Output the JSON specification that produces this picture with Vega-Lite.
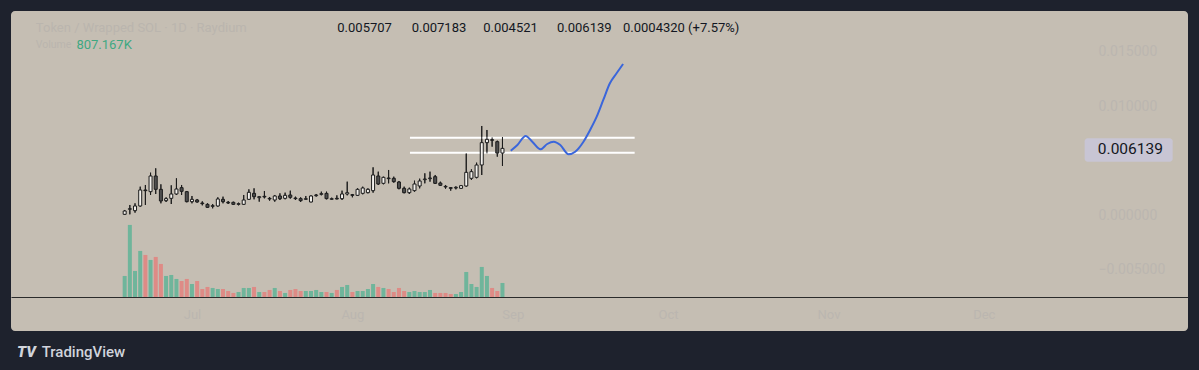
{
  "$schema": "https://vega.github.io/schema/vega-lite/v6.json",
  "width": 1177,
  "height": 320,
  "autosize": {"type": "none"},
  "padding": {"left": 11, "top": 11, "right": 11, "bottom": 39},
  "background": "#1e222d",
  "config": {
    "font": "Roboto",
    "view": {"fill": "#c5beb3", "stroke": null, "cornerRadius": 4}
  },
  "data": {"values": [
    {"date":"2024-06-18","o":0.000082,"h":0.000480,"l":0.000020,"c":0.000388,"v":1211000},
    {"date":"2024-06-19","o":0.000541,"h":0.000939,"l":0.000082,"c":0.000602,"v":4151000},
    {"date":"2024-06-20","o":0.000418,"h":0.001092,"l":0.000235,"c":0.000847,"v":1499000},
    {"date":"2024-06-21","o":0.000847,"h":0.002622,"l":0.000786,"c":0.002316,"v":2652000},
    {"date":"2024-06-22","o":0.002316,"h":0.002775,"l":0.000939,"c":0.002255,"v":2421000},
    {"date":"2024-06-23","o":0.002163,"h":0.003908,"l":0.001857,"c":0.003602,"v":2133000},
    {"date":"2024-06-24","o":0.003602,"h":0.004306,"l":0.001949,"c":0.002377,"v":2306000},
    {"date":"2024-06-25","o":0.002377,"h":0.002837,"l":0.001092,"c":0.001306,"v":1902000},
    {"date":"2024-06-26","o":0.001337,"h":0.001643,"l":0.001214,"c":0.001520,"v":1211000},
    {"date":"2024-06-27","o":0.001551,"h":0.002745,"l":0.001031,"c":0.001949,"v":1268000},
    {"date":"2024-06-28","o":0.001949,"h":0.003388,"l":0.001857,"c":0.002408,"v":1038000},
    {"date":"2024-06-29","o":0.002530,"h":0.002775,"l":0.001857,"c":0.002194,"v":922000},
    {"date":"2024-06-30","o":0.002163,"h":0.002224,"l":0.001184,"c":0.001245,"v":1038000},
    {"date":"2024-07-01","o":0.001245,"h":0.001765,"l":0.001092,"c":0.001459,"v":749000},
    {"date":"2024-07-02","o":0.001398,"h":0.001490,"l":0.001153,"c":0.001214,"v":922000},
    {"date":"2024-07-03","o":0.001123,"h":0.001275,"l":0.000908,"c":0.001061,"v":461000},
    {"date":"2024-07-04","o":0.001000,"h":0.001092,"l":0.000663,"c":0.000724,"v":577000},
    {"date":"2024-07-05","o":0.000816,"h":0.001031,"l":0.000633,"c":0.000877,"v":519000},
    {"date":"2024-07-06","o":0.000847,"h":0.001643,"l":0.000786,"c":0.001490,"v":461000},
    {"date":"2024-07-07","o":0.001459,"h":0.001704,"l":0.001092,"c":0.001245,"v":461000},
    {"date":"2024-07-08","o":0.001184,"h":0.001306,"l":0.001031,"c":0.001123,"v":346000},
    {"date":"2024-07-09","o":0.001184,"h":0.001245,"l":0.000939,"c":0.001000,"v":231000},
    {"date":"2024-07-10","o":0.001000,"h":0.001153,"l":0.000908,"c":0.001061,"v":288000},
    {"date":"2024-07-11","o":0.001000,"h":0.001857,"l":0.000939,"c":0.001398,"v":519000},
    {"date":"2024-07-12","o":0.001459,"h":0.002377,"l":0.001398,"c":0.002102,"v":519000},
    {"date":"2024-07-13","o":0.002010,"h":0.002469,"l":0.001459,"c":0.001704,"v":577000},
    {"date":"2024-07-14","o":0.001612,"h":0.001765,"l":0.001245,"c":0.001704,"v":288000},
    {"date":"2024-07-15","o":0.001735,"h":0.002224,"l":0.001551,"c":0.001673,"v":288000},
    {"date":"2024-07-16","o":0.001551,"h":0.001673,"l":0.001337,"c":0.001490,"v":404000},
    {"date":"2024-07-17","o":0.001398,"h":0.001857,"l":0.001245,"c":0.001765,"v":519000},
    {"date":"2024-07-18","o":0.001765,"h":0.002010,"l":0.001398,"c":0.001520,"v":346000},
    {"date":"2024-07-19","o":0.001551,"h":0.002071,"l":0.001459,"c":0.001826,"v":231000},
    {"date":"2024-07-20","o":0.001857,"h":0.002255,"l":0.001520,"c":0.001643,"v":404000},
    {"date":"2024-07-21","o":0.001582,"h":0.001704,"l":0.001398,"c":0.001520,"v":461000},
    {"date":"2024-07-22","o":0.001520,"h":0.001643,"l":0.001214,"c":0.001337,"v":346000},
    {"date":"2024-07-23","o":0.001459,"h":0.001765,"l":0.001398,"c":0.001520,"v":346000},
    {"date":"2024-07-24","o":0.001214,"h":0.001826,"l":0.001184,"c":0.001765,"v":346000},
    {"date":"2024-07-25","o":0.001796,"h":0.001949,"l":0.001704,"c":0.001857,"v":404000},
    {"date":"2024-07-26","o":0.001918,"h":0.002163,"l":0.001826,"c":0.001979,"v":288000},
    {"date":"2024-07-27","o":0.002010,"h":0.002163,"l":0.001459,"c":0.001520,"v":288000},
    {"date":"2024-07-28","o":0.001459,"h":0.001612,"l":0.001398,"c":0.001520,"v":231000},
    {"date":"2024-07-29","o":0.001551,"h":0.001826,"l":0.001459,"c":0.001490,"v":404000},
    {"date":"2024-07-30","o":0.001520,"h":0.002255,"l":0.001398,"c":0.001949,"v":577000},
    {"date":"2024-07-31","o":0.001949,"h":0.003081,"l":0.001826,"c":0.002071,"v":692000},
    {"date":"2024-08-01","o":0.001888,"h":0.001949,"l":0.001643,"c":0.001826,"v":288000},
    {"date":"2024-08-02","o":0.001826,"h":0.002469,"l":0.001765,"c":0.002377,"v":346000},
    {"date":"2024-08-03","o":0.002010,"h":0.002622,"l":0.001918,"c":0.002500,"v":346000},
    {"date":"2024-08-04","o":0.002071,"h":0.002469,"l":0.002010,"c":0.002377,"v":461000},
    {"date":"2024-08-05","o":0.002255,"h":0.004397,"l":0.002071,"c":0.003694,"v":749000},
    {"date":"2024-08-06","o":0.003602,"h":0.004000,"l":0.002775,"c":0.002867,"v":577000},
    {"date":"2024-08-07","o":0.002928,"h":0.003541,"l":0.002837,"c":0.003479,"v":519000},
    {"date":"2024-08-08","o":0.003418,"h":0.004153,"l":0.002928,"c":0.003357,"v":461000},
    {"date":"2024-08-09","o":0.003388,"h":0.003541,"l":0.002990,"c":0.003081,"v":288000},
    {"date":"2024-08-10","o":0.003051,"h":0.003143,"l":0.002377,"c":0.002469,"v":519000},
    {"date":"2024-08-11","o":0.002469,"h":0.002622,"l":0.002010,"c":0.002071,"v":346000},
    {"date":"2024-08-12","o":0.002071,"h":0.002530,"l":0.001949,"c":0.002408,"v":288000},
    {"date":"2024-08-13","o":0.002255,"h":0.003173,"l":0.002163,"c":0.002867,"v":346000},
    {"date":"2024-08-14","o":0.002683,"h":0.003357,"l":0.002469,"c":0.003143,"v":288000},
    {"date":"2024-08-15","o":0.003265,"h":0.003847,"l":0.002928,"c":0.003326,"v":288000},
    {"date":"2024-08-16","o":0.003357,"h":0.004000,"l":0.003081,"c":0.003418,"v":404000},
    {"date":"2024-08-17","o":0.003541,"h":0.003694,"l":0.002867,"c":0.002928,"v":231000},
    {"date":"2024-08-18","o":0.002959,"h":0.003081,"l":0.002683,"c":0.002745,"v":231000},
    {"date":"2024-08-19","o":0.002653,"h":0.002775,"l":0.002439,"c":0.002592,"v":231000},
    {"date":"2024-08-20","o":0.002530,"h":0.002561,"l":0.002255,"c":0.002469,"v":173000},
    {"date":"2024-08-21","o":0.002500,"h":0.002653,"l":0.002377,"c":0.002561,"v":173000},
    {"date":"2024-08-22","o":0.002469,"h":0.002775,"l":0.002408,"c":0.002714,"v":288000},
    {"date":"2024-08-23","o":0.002683,"h":0.005683,"l":0.002622,"c":0.003938,"v":1441000},
    {"date":"2024-08-24","o":0.003388,"h":0.004214,"l":0.003235,"c":0.004000,"v":749000},
    {"date":"2024-08-25","o":0.003479,"h":0.004826,"l":0.003388,"c":0.004612,"v":577000},
    {"date":"2024-08-26","o":0.004612,"h":0.008193,"l":0.003694,"c":0.006663,"v":1730000},
    {"date":"2024-08-27","o":0.006663,"h":0.007826,"l":0.005683,"c":0.006969,"v":1211000},
    {"date":"2024-08-28","o":0.006938,"h":0.007152,"l":0.006295,"c":0.006877,"v":519000},
    {"date":"2024-08-29","o":0.006754,"h":0.006846,"l":0.005377,"c":0.005707,"v":346000},
    {"date":"2024-08-30","o":0.005707,"h":0.007183,"l":0.004521,"c":0.006139,"v":807167}
  ]},
  "resolve": {"scale": {"y": "independent"}},
  "layer": [
    {
      "mark": {"type": "bar", "size": 4},
      "encoding": {
        "x": {"field": "date", "type": "temporal", "title": null,
          "scale": {"type": "utc", "nice": false, "domain": [{"year": 2024, "month": 5, "date": 28, "utc": true}, {"year": 2025, "month": 1, "date": 8, "hours": 12, "utc": true}]},
          "axis": {"orient": "bottom", "offset": -34, "grid": false, "ticks": false, "domain": true, "domainColor": "#2b2b2b", "domainWidth": 1, "zindex": 1,
            "values": [{"year": 2024, "month": 7, "date": 1, "utc": true}, {"year": 2024, "month": 8, "date": 1, "utc": true}, {"year": 2024, "month": 9, "date": 1, "utc": true}, {"year": 2024, "month": 10, "date": 1, "utc": true}, {"year": 2024, "month": 11, "date": 1, "utc": true}, {"year": 2024, "month": 12, "date": 1, "utc": true}],
            "labelExpr": "utcFormat(datum.value, '%b')", "labelColor": "#bbb6b0", "labelFontSize": 13, "labelPadding": 11, "labelFlush": false, "labelOverlap": false}},
        "y": {"field": "v", "type": "quantitative", "title": null, "axis": null,
          "scale": {"domain": [-1960000, 16474000], "nice": false, "zero": false}},
        "color": {"condition": {"test": "datum.c >= datum.o", "value": "#6fb59b"}, "value": "#de8b86"}
      }
    },
    {
      "layer": [
        {
          "mark": {"type": "rule", "color": "#1c1c1c", "strokeWidth": 1},
          "encoding": {
            "x": {"field": "date", "type": "temporal", "title": null,
              "scale": {"type": "utc", "nice": false, "domain": [{"year": 2024, "month": 5, "date": 28, "utc": true}, {"year": 2025, "month": 1, "date": 8, "hours": 12, "utc": true}]}},
            "y": {"field": "l", "type": "quantitative", "title": null,
              "scale": {"domain": [-0.010632, 0.018753], "nice": false, "zero": false},
              "axis": {"orient": "right", "offset": -98, "domain": false, "ticks": false, "grid": false, "zindex": 0, "values": [-0.005, 0, 0.01, 0.015], "format": ".6f", "labelColor": "#bbb6b0", "labelFontSize": 14, "labelPadding": 8, "labelFlush": false, "labelOverlap": false}},
            "y2": {"field": "h"}
          }
        },
        {
          "data": {"values": [{}]},
          "mark": {"type": "rule", "color": "#ffffff", "strokeWidth": 2},
          "encoding": {
            "x": {"datum": {"year": 2024, "month": 8, "date": 12, "hours": 3, "utc": true}, "type": "temporal", "title": null,
              "scale": {"type": "utc", "nice": false, "domain": [{"year": 2024, "month": 5, "date": 28, "utc": true}, {"year": 2025, "month": 1, "date": 8, "hours": 12, "utc": true}]}},
            "x2": {"datum": {"year": 2024, "month": 9, "date": 24, "hours": 13, "utc": true}},
            "y": {"datum": 0.007119, "type": "quantitative", "title": null, "scale": {"domain": [-0.010632, 0.018753], "nice": false, "zero": false}}
          }
        },
        {
          "data": {"values": [{}]},
          "mark": {"type": "rule", "color": "#ffffff", "strokeWidth": 2},
          "encoding": {
            "x": {"datum": {"year": 2024, "month": 8, "date": 12, "hours": 3, "utc": true}, "type": "temporal", "title": null,
              "scale": {"type": "utc", "nice": false, "domain": [{"year": 2024, "month": 5, "date": 28, "utc": true}, {"year": 2025, "month": 1, "date": 8, "hours": 12, "utc": true}]}},
            "x2": {"datum": {"year": 2024, "month": 9, "date": 24, "hours": 13, "utc": true}},
            "y": {"datum": 0.005741, "type": "quantitative", "title": null, "scale": {"domain": [-0.010632, 0.018753], "nice": false, "zero": false}}
          }
        },
        {
          "mark": {"type": "rule", "color": "#1c1c1c", "strokeWidth": 1},
          "encoding": {
            "x": {"field": "date", "type": "temporal", "title": null,
              "scale": {"type": "utc", "nice": false, "domain": [{"year": 2024, "month": 5, "date": 28, "utc": true}, {"year": 2025, "month": 1, "date": 8, "hours": 12, "utc": true}]}},
            "y": {"field": "l", "type": "quantitative", "title": null, "scale": {"domain": [-0.010632, 0.018753], "nice": false, "zero": false}},
            "y2": {"field": "h"}
          }
        },
        {
          "mark": {"type": "bar", "size": 3, "stroke": "#1c1c1c", "strokeWidth": 1},
          "encoding": {
            "x": {"field": "date", "type": "temporal", "title": null,
              "scale": {"type": "utc", "nice": false, "domain": [{"year": 2024, "month": 5, "date": 28, "utc": true}, {"year": 2025, "month": 1, "date": 8, "hours": 12, "utc": true}]}},
            "y": {"field": "o", "type": "quantitative", "title": null, "scale": {"domain": [-0.010632, 0.018753], "nice": false, "zero": false}},
            "y2": {"field": "c"},
            "fill": {"condition": {"test": "datum.c >= datum.o", "value": "#f3f1ed"}, "value": "#4f4f4f"}
          }
        },
        {
          "data": {"values": [
            {"t": "2024-08-31T14:24:00Z", "p": 0.005925},
            {"t": "2024-09-01T21:21:00Z", "p": 0.006448},
            {"t": "2024-09-03T11:30:00Z", "p": 0.007275},
            {"t": "2024-09-04T18:14:00Z", "p": 0.006751},
            {"t": "2024-09-06T08:24:00Z", "p": 0.006054},
            {"t": "2024-09-07T15:22:00Z", "p": 0.006540},
            {"t": "2024-09-08T21:36:00Z", "p": 0.006751},
            {"t": "2024-09-10T04:19:00Z", "p": 0.006448},
            {"t": "2024-09-11T18:29:00Z", "p": 0.005594},
            {"t": "2024-09-13T01:26:00Z", "p": 0.005833},
            {"t": "2024-09-14T15:36:00Z", "p": 0.006751},
            {"t": "2024-09-15T22:19:00Z", "p": 0.007826},
            {"t": "2024-09-17T05:02:00Z", "p": 0.009047},
            {"t": "2024-09-18T11:31:00Z", "p": 0.010581},
            {"t": "2024-09-19T18:14:00Z", "p": 0.012114},
            {"t": "2024-09-21T01:12:00Z", "p": 0.013032},
            {"t": "2024-09-22T07:26:00Z", "p": 0.013886}
          ]},
          "mark": {"type": "line", "color": "#3a66db", "strokeWidth": 2, "interpolate": "monotone"},
          "encoding": {
            "x": {"field": "t", "type": "temporal", "title": null,
              "scale": {"type": "utc", "nice": false, "domain": [{"year": 2024, "month": 5, "date": 28, "utc": true}, {"year": 2025, "month": 1, "date": 8, "hours": 12, "utc": true}]}},
            "y": {"field": "p", "type": "quantitative", "title": null, "scale": {"domain": [-0.010632, 0.018753], "nice": false, "zero": false}}
          }
        },
        {
          "data": {"values": [{}]},
          "mark": {"type": "rect", "color": "#c8c5d4", "cornerRadius": 3},
          "encoding": {
            "x": {"datum": {"year": 2024, "month": 12, "date": 20, "hours": 12, "utc": true}, "type": "temporal", "title": null,
              "scale": {"type": "utc", "nice": false, "domain": [{"year": 2024, "month": 5, "date": 28, "utc": true}, {"year": 2025, "month": 1, "date": 8, "hours": 12, "utc": true}]}},
            "x2": {"datum": {"year": 2025, "month": 1, "date": 6, "hours": 12, "utc": true}},
            "y": {"datum": 0.007064, "type": "quantitative", "title": null, "scale": {"domain": [-0.010632, 0.018753], "nice": false, "zero": false}},
            "y2": {"datum": 0.004915}
          }
        },
        {
          "data": {"values": [{}]},
          "mark": {"type": "text", "text": "0.006139", "color": "#131722", "fontSize": 15.5, "align": "center", "baseline": "middle"},
          "encoding": {
            "x": {"datum": {"year": 2024, "month": 12, "date": 29, "hours": 8, "utc": true}, "type": "temporal", "title": null,
              "scale": {"type": "utc", "nice": false, "domain": [{"year": 2024, "month": 5, "date": 28, "utc": true}, {"year": 2025, "month": 1, "date": 8, "hours": 12, "utc": true}]}},
            "y": {"datum": 0.00604, "type": "quantitative", "title": null, "scale": {"domain": [-0.010632, 0.018753], "nice": false, "zero": false}}
          }
        },
        {
          "data": {"values": [{}]},
          "mark": {"type": "text", "text": "Token / Wrapped SOL · 1D · Raydium", "color": "#bab5ae", "fontSize": 13, "align": "left", "baseline": "middle"},
          "encoding": {
            "x": {"datum": {"year": 2024, "month": 5, "date": 31, "hours": 20, "utc": true}, "type": "temporal", "title": null,
              "scale": {"type": "utc", "nice": false, "domain": [{"year": 2024, "month": 5, "date": 28, "utc": true}, {"year": 2025, "month": 1, "date": 8, "hours": 12, "utc": true}]}},
            "y": {"datum": 0.017165, "type": "quantitative", "title": null, "scale": {"domain": [-0.010632, 0.018753], "nice": false, "zero": false}}
          }
        },
        {
          "data": {"values": [{}]},
          "mark": {"type": "text", "text": "Volume", "color": "#bab5ae", "fontSize": 10.5, "align": "left", "baseline": "middle"},
          "encoding": {
            "x": {"datum": {"year": 2024, "month": 5, "date": 31, "hours": 20, "utc": true}, "type": "temporal", "title": null,
              "scale": {"type": "utc", "nice": false, "domain": [{"year": 2024, "month": 5, "date": 28, "utc": true}, {"year": 2025, "month": 1, "date": 8, "hours": 12, "utc": true}]}},
            "y": {"datum": 0.015585, "type": "quantitative", "title": null, "scale": {"domain": [-0.010632, 0.018753], "nice": false, "zero": false}}
          }
        },
        {
          "data": {"values": [{}]},
          "mark": {"type": "text", "text": "807.167K", "color": "#3fa882", "fontSize": 13, "align": "left", "baseline": "middle"},
          "encoding": {
            "x": {"datum": {"year": 2024, "month": 6, "date": 8, "hours": 16, "utc": true}, "type": "temporal", "title": null,
              "scale": {"type": "utc", "nice": false, "domain": [{"year": 2024, "month": 5, "date": 28, "utc": true}, {"year": 2025, "month": 1, "date": 8, "hours": 12, "utc": true}]}},
            "y": {"datum": 0.015585, "type": "quantitative", "title": null, "scale": {"domain": [-0.010632, 0.018753], "nice": false, "zero": false}}
          }
        },
        {
          "data": {"values": [{}]},
          "mark": {"type": "text", "text": "0.005707", "color": "#131722", "fontSize": 13, "align": "left", "baseline": "middle"},
          "encoding": {
            "x": {"datum": {"year": 2024, "month": 7, "date": 29, "hours": 2, "utc": true}, "type": "temporal", "title": null,
              "scale": {"type": "utc", "nice": false, "domain": [{"year": 2024, "month": 5, "date": 28, "utc": true}, {"year": 2025, "month": 1, "date": 8, "hours": 12, "utc": true}]}},
            "y": {"datum": 0.017165, "type": "quantitative", "title": null, "scale": {"domain": [-0.010632, 0.018753], "nice": false, "zero": false}}
          }
        },
        {
          "data": {"values": [{}]},
          "mark": {"type": "text", "text": "0.007183", "color": "#131722", "fontSize": 13, "align": "left", "baseline": "middle"},
          "encoding": {
            "x": {"datum": {"year": 2024, "month": 8, "date": 12, "hours": 11, "utc": true}, "type": "temporal", "title": null,
              "scale": {"type": "utc", "nice": false, "domain": [{"year": 2024, "month": 5, "date": 28, "utc": true}, {"year": 2025, "month": 1, "date": 8, "hours": 12, "utc": true}]}},
            "y": {"datum": 0.017165, "type": "quantitative", "title": null, "scale": {"domain": [-0.010632, 0.018753], "nice": false, "zero": false}}
          }
        },
        {
          "data": {"values": [{}]},
          "mark": {"type": "text", "text": "0.004521", "color": "#131722", "fontSize": 13, "align": "left", "baseline": "middle"},
          "encoding": {
            "x": {"datum": {"year": 2024, "month": 8, "date": 26, "hours": 7, "utc": true}, "type": "temporal", "title": null,
              "scale": {"type": "utc", "nice": false, "domain": [{"year": 2024, "month": 5, "date": 28, "utc": true}, {"year": 2025, "month": 1, "date": 8, "hours": 12, "utc": true}]}},
            "y": {"datum": 0.017165, "type": "quantitative", "title": null, "scale": {"domain": [-0.010632, 0.018753], "nice": false, "zero": false}}
          }
        },
        {
          "data": {"values": [{}]},
          "mark": {"type": "text", "text": "0.006139", "color": "#131722", "fontSize": 13, "align": "left", "baseline": "middle"},
          "encoding": {
            "x": {"datum": {"year": 2024, "month": 9, "date": 9, "hours": 13, "utc": true}, "type": "temporal", "title": null,
              "scale": {"type": "utc", "nice": false, "domain": [{"year": 2024, "month": 5, "date": 28, "utc": true}, {"year": 2025, "month": 1, "date": 8, "hours": 12, "utc": true}]}},
            "y": {"datum": 0.017165, "type": "quantitative", "title": null, "scale": {"domain": [-0.010632, 0.018753], "nice": false, "zero": false}}
          }
        },
        {
          "data": {"values": [{}]},
          "mark": {"type": "text", "text": "0.0004320 (+7.57%)", "color": "#131722", "fontSize": 13, "align": "left", "baseline": "middle"},
          "encoding": {
            "x": {"datum": {"year": 2024, "month": 9, "date": 22, "hours": 7, "utc": true}, "type": "temporal", "title": null,
              "scale": {"type": "utc", "nice": false, "domain": [{"year": 2024, "month": 5, "date": 28, "utc": true}, {"year": 2025, "month": 1, "date": 8, "hours": 12, "utc": true}]}},
            "y": {"datum": 0.017165, "type": "quantitative", "title": null, "scale": {"domain": [-0.010632, 0.018753], "nice": false, "zero": false}}
          }
        },
        {
          "data": {"values": [{}]},
          "mark": {"type": "text", "text": "TV", "color": "#d1d4dc", "fontSize": 15, "fontWeight": 900, "fontStyle": "italic", "align": "center", "baseline": "middle"},
          "encoding": {
            "x": {"datum": {"year": 2024, "month": 5, "date": 30, "utc": true}, "type": "temporal", "title": null,
              "scale": {"type": "utc", "nice": false, "domain": [{"year": 2024, "month": 5, "date": 28, "utc": true}, {"year": 2025, "month": 1, "date": 8, "hours": 12, "utc": true}]}},
            "y": {"datum": -0.01256, "type": "quantitative", "title": null, "scale": {"domain": [-0.010632, 0.018753], "nice": false, "zero": false}}
          }
        },
        {
          "data": {"values": [{}]},
          "mark": {"type": "text", "text": "TradingView", "color": "#d1d4dc", "fontSize": 15, "fontWeight": 500, "align": "left", "baseline": "middle"},
          "encoding": {
            "x": {"datum": {"year": 2024, "month": 6, "date": 1, "hours": 23, "utc": true}, "type": "temporal", "title": null,
              "scale": {"type": "utc", "nice": false, "domain": [{"year": 2024, "month": 5, "date": 28, "utc": true}, {"year": 2025, "month": 1, "date": 8, "hours": 12, "utc": true}]}},
            "y": {"datum": -0.01256, "type": "quantitative", "title": null, "scale": {"domain": [-0.010632, 0.018753], "nice": false, "zero": false}}
          }
        }
      ]
    }
  ]
}
